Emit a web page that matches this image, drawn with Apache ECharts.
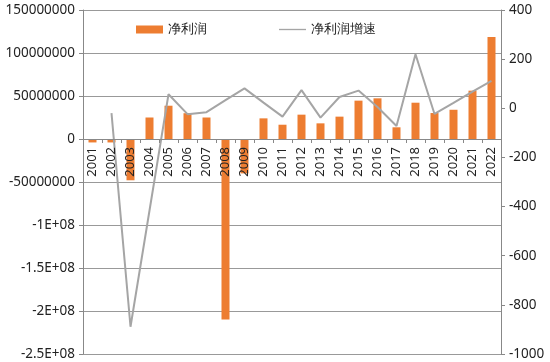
<!DOCTYPE html>
<html>
<head>
<meta charset="utf-8">
<script src="https://cdn.jsdelivr.net/npm/echarts@6/dist/echarts.min.js"></script>
<style>html,body{margin:0;padding:0;background:#fff;}#c{width:550px;height:362px;}</style>
</head>
<body>
<div id="c"></div>
<script>
var years = ['2001','2002','2003','2004','2005','2006','2007','2008','2009','2010','2011','2012','2013','2014','2015','2016','2017','2018','2019','2020','2021','2022'];
var netProfit = [-4000000,-4000000,-48000000,25000000,38700000,30000000,25000000,-210000000,-40000000,24000000,16600000,28300000,18200000,26000000,44600000,47300000,13600000,42200000,30200000,34000000,56200000,118600000];
var growth = [null,-20,-889,-416,57,-24,-16,33,81,23,-34,74,-38,46,72,5,-72,220,-23,22,68,112];
var leftTickLabels = {'150000000':'150000000','100000000':'100000000','50000000':'50000000','0':'0','-50000000':'-50000000','-100000000':'-1E+08','-150000000':'-1.5E+08','-200000000':'-2E+08','-250000000':'-2.5E+08'};
var seriesNames = ['净利润','净利润增速'];

var leftMin = -250000000, leftMax = 150000000;
var gridTop = 10, gridBottom = 8, H = 362;
var gridH = H - gridTop - gridBottom;
var zeroOffset = -gridH * (0 - leftMin) / (leftMax - leftMin);

var chart = echarts.init(document.getElementById('c'), null, {renderer:'canvas'});
var font = '"Noto Sans", sans-serif';
chart.setOption({
  animation: false,
  backgroundColor: '#fff',
  grid: {left: 83, right: 49, top: gridTop, bottom: gridBottom, containLabel: false, outerBoundsMode: 'none'},
  legend: {
    top: 18, left: 131,
    itemGap: 72, itemWidth: 27, itemHeight: 8,
    textStyle: {fontFamily: font, fontSize: 13, color: '#222'},
    data: [{name: seriesNames[0], icon: 'rect'}, {name: seriesNames[1], icon: 'path://M0,4 L30,4 L30,5.5 L0,5.5 Z'}]
  },
  xAxis: {
    type: 'category', data: years, z: 10, position: 'bottom', offset: zeroOffset,
    axisLine: {onZero: false, lineStyle: {color: '#888', width: 1}},
    axisTick: {show: true, length: 4, inside: false, lineStyle: {color: '#888'}},
    axisLabel: {rotate: 90, margin: 8, fontFamily: font, fontSize: 13, color: '#222', interval: 0, hideOverlap: false},
    splitLine: {show: false}
  },
  yAxis: [{
    type: 'value', min: leftMin, max: leftMax, interval: 50000000,
    axisLine: {show: true, lineStyle: {color: '#888'}},
    axisTick: {show: true, length: 4, lineStyle: {color: '#888'}},
    axisLabel: {margin: 8, fontFamily: font, fontSize: 13.5, color: '#222',
      formatter: function(v){ return leftTickLabels[String(v)] !== undefined ? leftTickLabels[String(v)] : String(v); }},
    splitLine: {show: true, lineStyle: {color: '#999', width: 1}}
  },{
    type: 'value', min: -1000, max: 400, interval: 200,
    axisLine: {show: true, lineStyle: {color: '#888'}},
    axisTick: {show: true, length: 4, lineStyle: {color: '#888'}},
    axisLabel: {margin: 8, fontFamily: font, fontSize: 13.5, color: '#222',
      formatter: function(v){ return String(v); }},
    splitLine: {show: false}
  }],
  series: [{
    name: seriesNames[0], type: 'bar', yAxisIndex: 0, data: netProfit,
    barWidth: 8, itemStyle: {color: '#ED7D31'}
  },{
    name: seriesNames[1], type: 'line', yAxisIndex: 1, data: growth,
    symbol: 'none', connectNulls: false,
    lineStyle: {color: '#A5A5A5', width: 2}, itemStyle: {color: '#A5A5A5'}
  }]
});
</script>
</body>
</html>
